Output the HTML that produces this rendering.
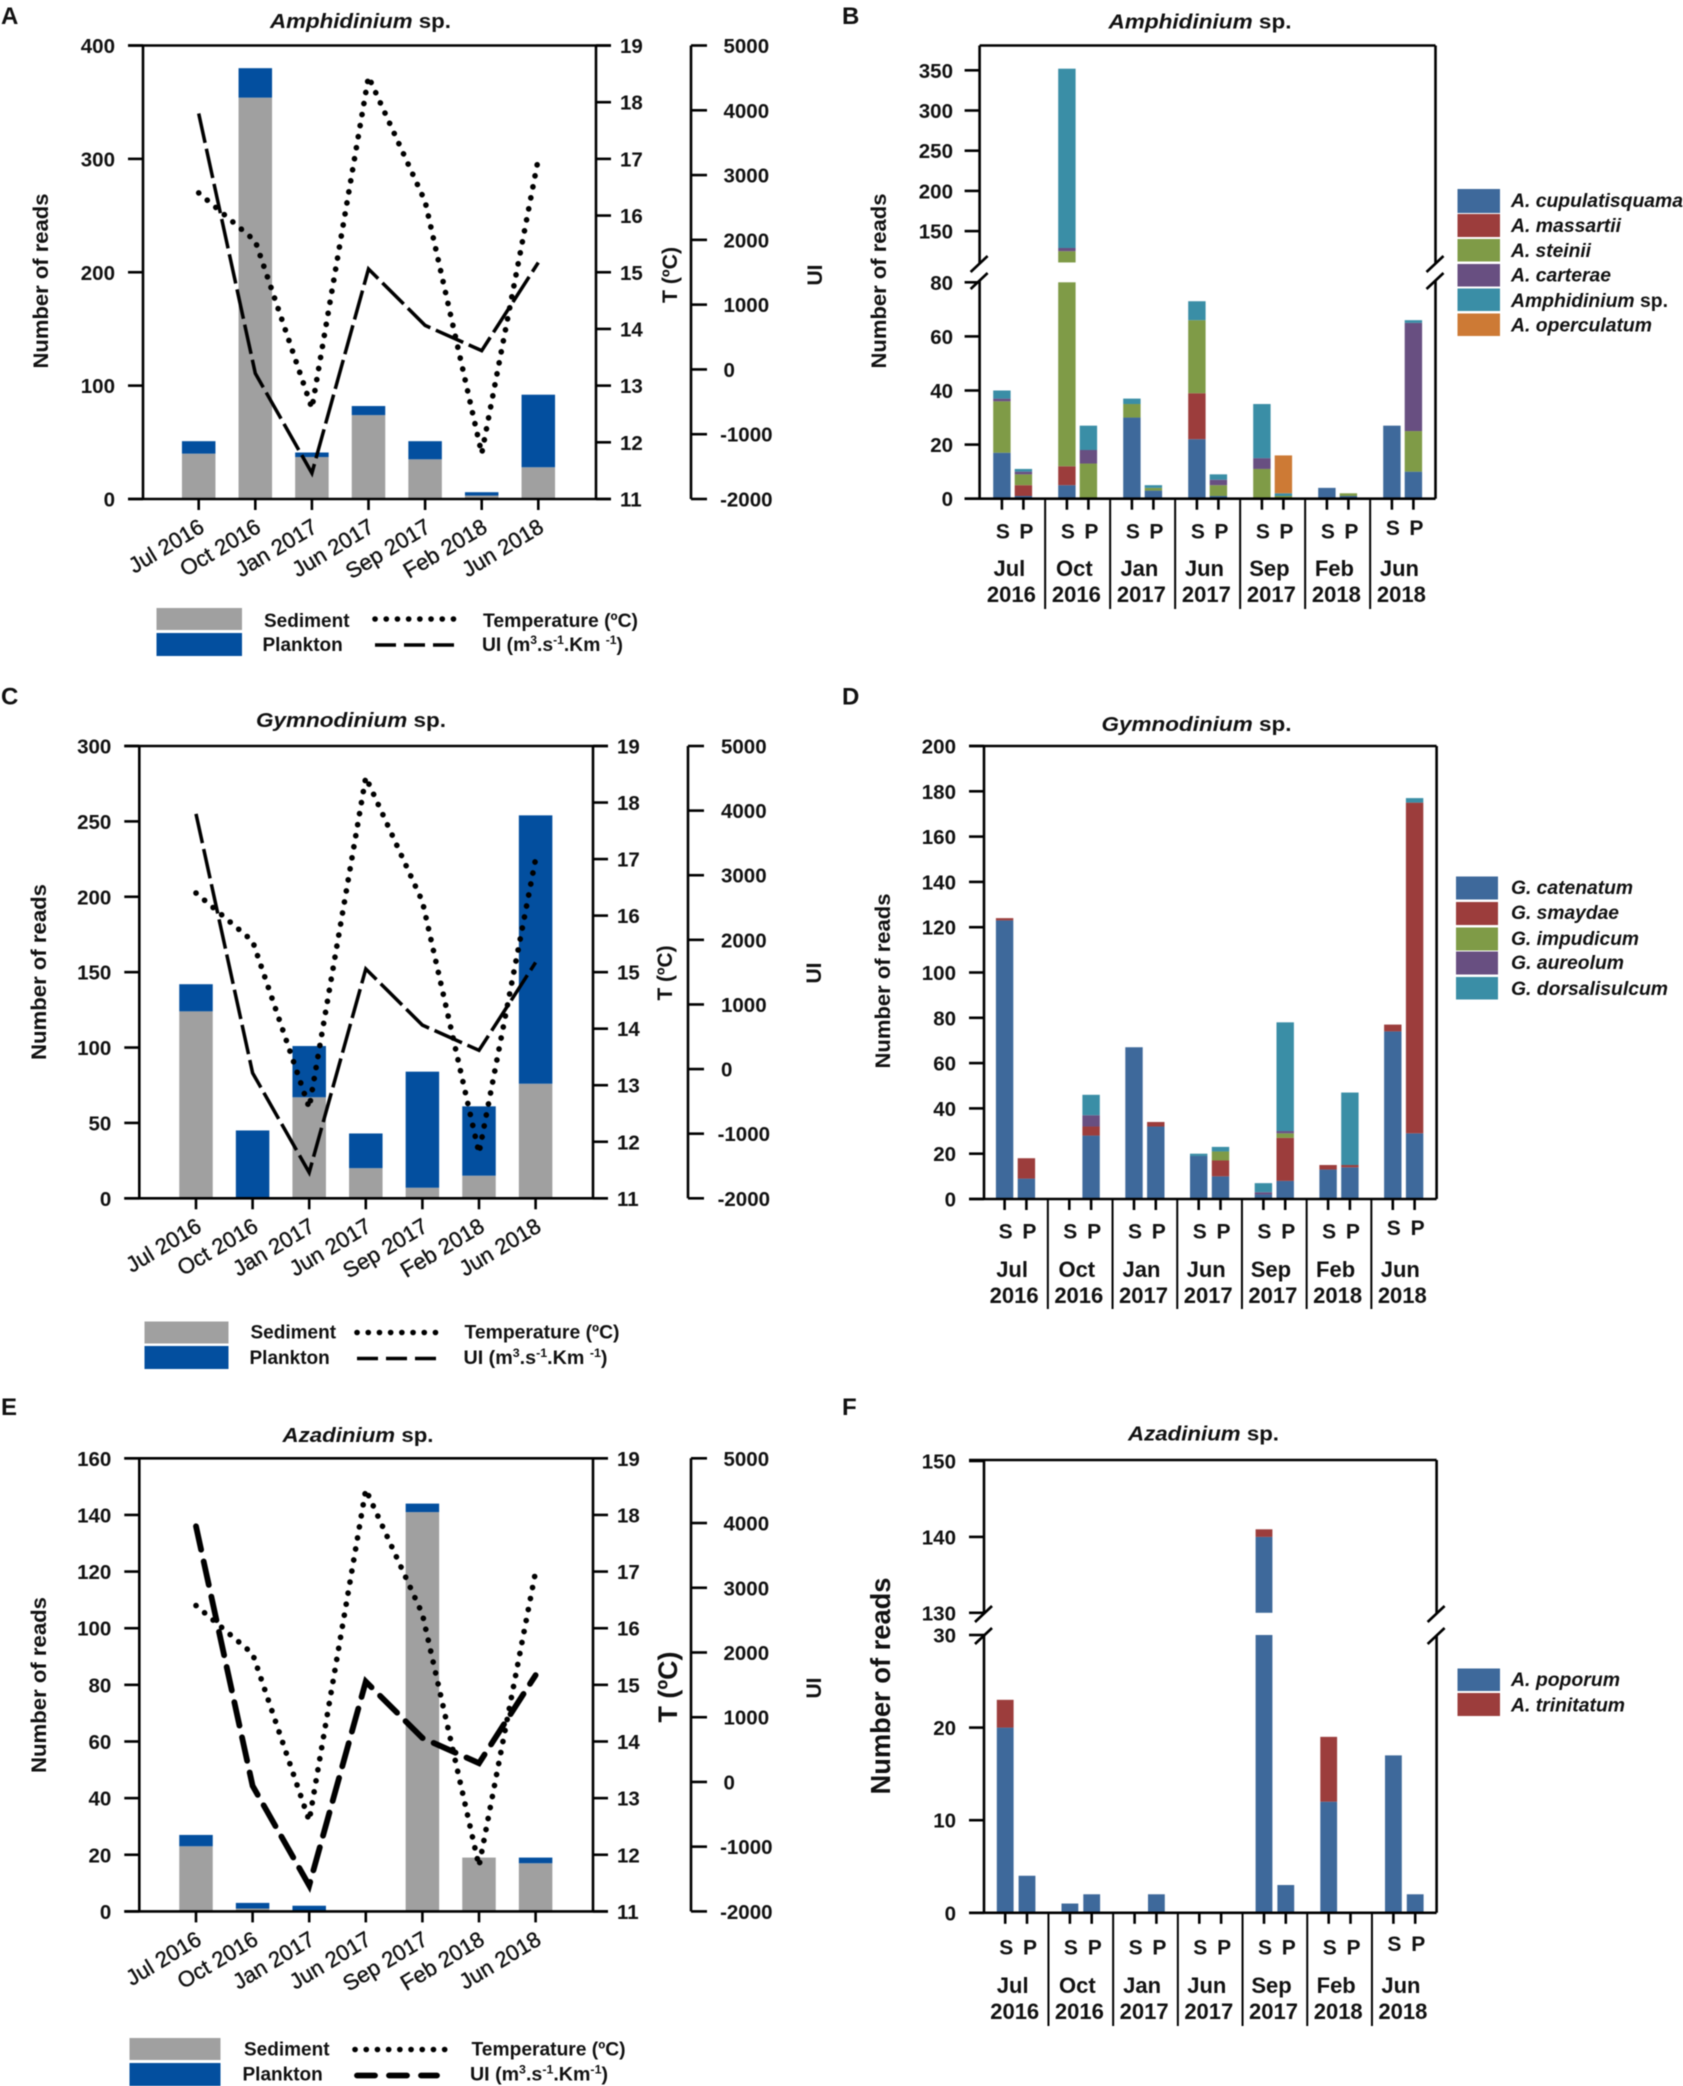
<!DOCTYPE html>
<html lang="en">
<head>
<meta charset="utf-8">
<title>Dinoflagellate reads by sampling date</title>
<style>
html,body{margin:0;padding:0;background:#fff;width:1683px;height:2086px;overflow:hidden}
#figure{display:block;filter:blur(.45px)}
text{font-family:"Liberation Sans",sans-serif;font-weight:bold;fill:#111}
.tick{font-size:20.5px}
.xl{font-size:22px;font-weight:normal;stroke:#111;stroke-width:.4px}
.sp{font-size:21px}
.grp{font-size:22px}
.title{font-size:20px}
.letter{font-size:24px}
.axt{font-size:21px}
.leg{font-size:19px}
.sleg{font-size:19px;font-style:italic}
.dotted{fill:none;stroke:#000;stroke-width:5.6;stroke-linecap:round;stroke-dasharray:.1 11.1}
.dashed{fill:none;stroke:#000;stroke-width:3.5;stroke-dasharray:30 6}
.dashed-legend{fill:none;stroke:#000;stroke-width:3.5;stroke-dasharray:21 8}
.dashed-thick{fill:none;stroke:#000;stroke-width:5.8;stroke-linecap:round;stroke-dasharray:24 12}
.dashed-thick-legend{fill:none;stroke:#000;stroke-width:5.8;stroke-linecap:round;stroke-dasharray:18 14}
</style>
</head>
<body>
<svg id="figure" xmlns="http://www.w3.org/2000/svg" width="1683" height="2086" viewBox="0 0 1683 2086">
<rect width="1683" height="2086" fill="#fff"/>

<!-- Panel A -->
<g id="panel-a">
<text class="letter" x="1" y="24">A</text>
<text class="title" x="360.5" y="28" text-anchor="middle" textLength="181" lengthAdjust="spacingAndGlyphs"><tspan font-style="italic">Amphidinium</tspan> sp.</text>
<text class="axt" transform="translate(48,281) rotate(-90)" text-anchor="middle" textLength="175" lengthAdjust="spacingAndGlyphs">Number of reads</text>
<text class="axt" transform="translate(677,275) rotate(-90)" text-anchor="middle" textLength="56" lengthAdjust="spacingAndGlyphs">T (ºC)</text>
<text class="axt" transform="translate(822,275) rotate(-90)" text-anchor="middle">UI</text>
<rect x="156.5" y="608" width="85.5" height="22" fill="#a0a0a0"/>
<rect x="156.5" y="633" width="85.5" height="23" fill="#034f9f"/>
<text class="leg" x="264" y="627">Sediment</text>
<text class="leg" x="262.5" y="651">Plankton</text>
<line class="dotted" x1="375" y1="619" x2="455" y2="619"/>
<line class="dashed-legend" x1="375" y1="645" x2="455" y2="645"/>
<text class="leg" x="483" y="627" textLength="155" lengthAdjust="spacingAndGlyphs">Temperature (ºC)</text>
<text class="leg" x="482" y="651" textLength="141" lengthAdjust="spacingAndGlyphs">UI (m<tspan font-size="12" dy="-7">3</tspan><tspan dy="7">.s</tspan><tspan font-size="12" dy="-7">-1</tspan><tspan dy="7">.Km </tspan><tspan font-size="12" dy="-7">-1</tspan><tspan dy="7">)</tspan></text>
</g>

<!-- Panel B -->
<g id="panel-b">
<text class="letter" x="842" y="24">B</text>
<text class="title" x="1200" y="28.5" text-anchor="middle" textLength="183" lengthAdjust="spacingAndGlyphs"><tspan font-style="italic">Amphidinium</tspan> sp.</text>
<text class="axt" transform="translate(886,281) rotate(-90)" text-anchor="middle" textLength="175" lengthAdjust="spacingAndGlyphs">Number of reads</text>
<rect x="1457.5" y="189" width="42.5" height="24" fill="#3e699b"/>
<rect x="1457.5" y="214" width="42.5" height="23" fill="#9c3d3c"/>
<rect x="1457.5" y="239" width="42.5" height="22.5" fill="#7f9b47"/>
<rect x="1457.5" y="264" width="42.5" height="22.5" fill="#684f81"/>
<rect x="1457.5" y="288.5" width="42.5" height="22.5" fill="#3a8ea6"/>
<rect x="1457.5" y="313.5" width="42.5" height="22.5" fill="#cd7a35"/>
<text class="sleg" x="1511" y="207" textLength="172" lengthAdjust="spacingAndGlyphs">A. cupulatisquama</text>
<text class="sleg" x="1511" y="232" textLength="110" lengthAdjust="spacingAndGlyphs">A. massartii</text>
<text class="sleg" x="1511" y="257" textLength="80" lengthAdjust="spacingAndGlyphs">A. steinii</text>
<text class="sleg" x="1511" y="281.5" textLength="100" lengthAdjust="spacingAndGlyphs">A. carterae</text>
<text class="sleg" x="1511" y="307" textLength="157" lengthAdjust="spacingAndGlyphs"><tspan>Amphidinium</tspan><tspan font-style="normal"> sp.</tspan></text>
<text class="sleg" x="1511" y="331.5" textLength="141" lengthAdjust="spacingAndGlyphs">A. operculatum</text>
</g>

<!-- Panel C -->
<g id="panel-c">
<text class="letter" x="1" y="704.5">C</text>
<text class="title" x="351" y="727" text-anchor="middle" textLength="190" lengthAdjust="spacingAndGlyphs"><tspan font-style="italic">Gymnodinium</tspan> sp.</text>
<text class="axt" transform="translate(46,972) rotate(-90)" text-anchor="middle" textLength="176" lengthAdjust="spacingAndGlyphs">Number of reads</text>
<text class="axt" transform="translate(672,973) rotate(-90)" text-anchor="middle" textLength="55" lengthAdjust="spacingAndGlyphs">T (ºC)</text>
<text class="axt" transform="translate(821,973) rotate(-90)" text-anchor="middle">UI</text>
<rect x="144.5" y="1321.5" width="84" height="22" fill="#a0a0a0"/>
<rect x="144.5" y="1346" width="84" height="23" fill="#034f9f"/>
<text class="leg" x="250.5" y="1338.5">Sediment</text>
<text class="leg" x="249.5" y="1364">Plankton</text>
<line class="dotted" x1="357" y1="1332.5" x2="437" y2="1332.5"/>
<line class="dashed-legend" x1="357" y1="1358.5" x2="437" y2="1358.5"/>
<text class="leg" x="464.5" y="1338.5" textLength="155" lengthAdjust="spacingAndGlyphs">Temperature (ºC)</text>
<text class="leg" x="463.5" y="1364" textLength="144" lengthAdjust="spacingAndGlyphs">UI (m<tspan font-size="12" dy="-7">3</tspan><tspan dy="7">.s</tspan><tspan font-size="12" dy="-7">-1</tspan><tspan dy="7">.Km </tspan><tspan font-size="12" dy="-7">-1</tspan><tspan dy="7">)</tspan></text>
</g>

<!-- Panel D -->
<g id="panel-d">
<text class="letter" x="842" y="704.5">D</text>
<text class="title" x="1196.5" y="731" text-anchor="middle" textLength="190" lengthAdjust="spacingAndGlyphs"><tspan font-style="italic">Gymnodinium</tspan> sp.</text>
<text class="axt" transform="translate(890,981) rotate(-90)" text-anchor="middle" textLength="175" lengthAdjust="spacingAndGlyphs">Number of reads</text>
<rect x="1456" y="876.5" width="42" height="23" fill="#3e699b"/>
<rect x="1456" y="902" width="42" height="23" fill="#9c3d3c"/>
<rect x="1456" y="927.5" width="42" height="23" fill="#7f9b47"/>
<rect x="1456" y="951.5" width="42" height="23" fill="#684f81"/>
<rect x="1456" y="977" width="42" height="22.5" fill="#3a8ea6"/>
<text class="sleg" x="1511" y="894" textLength="122" lengthAdjust="spacingAndGlyphs">G. catenatum</text>
<text class="sleg" x="1511" y="919" textLength="108" lengthAdjust="spacingAndGlyphs">G. smaydae</text>
<text class="sleg" x="1511" y="945" textLength="128" lengthAdjust="spacingAndGlyphs">G. impudicum</text>
<text class="sleg" x="1511" y="969" textLength="113" lengthAdjust="spacingAndGlyphs">G. aureolum</text>
<text class="sleg" x="1511" y="995" textLength="157" lengthAdjust="spacingAndGlyphs">G. dorsalisulcum</text>
</g>

<!-- Panel E -->
<g id="panel-e">
<text class="letter" x="1" y="1415">E</text>
<text class="title" x="358" y="1442" text-anchor="middle" textLength="151" lengthAdjust="spacingAndGlyphs"><tspan font-style="italic">Azadinium</tspan> sp.</text>
<text class="axt" transform="translate(46,1685) rotate(-90)" text-anchor="middle" textLength="176" lengthAdjust="spacingAndGlyphs">Number of reads</text>
<text class="axt" style="font-size:27px" transform="translate(677,1687) rotate(-90)" text-anchor="middle" textLength="71" lengthAdjust="spacingAndGlyphs">T (ºC)</text>
<text class="axt" transform="translate(821,1688) rotate(-90)" text-anchor="middle">UI</text>
<rect x="129.5" y="2038" width="91" height="22" fill="#a0a0a0"/>
<rect x="129.5" y="2063" width="91" height="23" fill="#034f9f"/>
<text class="leg" x="244" y="2055.5">Sediment</text>
<text class="leg" x="242.5" y="2080.5">Plankton</text>
<line class="dotted" x1="355" y1="2049.5" x2="447" y2="2049.5"/>
<line class="dashed-thick-legend" x1="357" y1="2075.5" x2="437" y2="2075.5"/>
<text class="leg" x="471.5" y="2055.5" textLength="154" lengthAdjust="spacingAndGlyphs">Temperature (ºC)</text>
<text class="leg" x="470" y="2080.5" textLength="138" lengthAdjust="spacingAndGlyphs">UI (m<tspan font-size="12" dy="-7">3</tspan><tspan dy="7">.s</tspan><tspan font-size="12" dy="-7">-1</tspan><tspan dy="7">.Km</tspan><tspan font-size="12" dy="-7">-1</tspan><tspan dy="7">)</tspan></text>
</g>

<!-- Panel F -->
<g id="panel-f">
<text class="letter" x="842" y="1415">F</text>
<text class="title" x="1203.5" y="1440.5" text-anchor="middle" textLength="151" lengthAdjust="spacingAndGlyphs"><tspan font-style="italic">Azadinium</tspan> sp.</text>
<text class="axt" style="font-size:28px" transform="translate(890,1686) rotate(-90)" text-anchor="middle" textLength="217" lengthAdjust="spacingAndGlyphs">Number of reads</text>
<rect x="1457.5" y="1668.5" width="42.5" height="22.5" fill="#3e699b"/>
<rect x="1457.5" y="1693" width="42.5" height="23" fill="#9c3d3c"/>
<text class="sleg" x="1511" y="1686" textLength="109" lengthAdjust="spacingAndGlyphs">A. poporum</text>
<text class="sleg" x="1511" y="1711.5" textLength="114" lengthAdjust="spacingAndGlyphs">A. trinitatum</text>
</g>
</svg>

<script>
// ---------- shared categories and tick labels ----------
const sampleMonths = ['Jul 2016','Oct 2016','Jan 2017','Jun 2017','Sep 2017','Feb 2018','Jun 2018'];
const fractionLabels = ['S','P'];
const temperatureTicks = [11,12,13,14,15,16,17,18,19];
const uiTicks = [-2000,-1000,0,1000,2000,3000,4000,5000];

// ---------- panel A ----------
const aSediment = [40,354,37,74,35,3,28];
const aPlankton = [11,26,4,8,16,3,64];
const aTemperature = [16.4,15.55,12.6,18.45,16.25,11.8,17.0];
const aUI = [3950,-60,-1600,1550,680,290,1650];
const aTicks = [0,100,200,300,400];

// ---------- panel C ----------
const cSediment = [124,0,67,20,7,15,76];
const cPlankton = [18,45,34,23,77,46,178];
const cTemperature = [16.4,15.55,12.6,18.45,16.25,11.8,17.0];
const cUI = [3950,-60,-1600,1550,680,290,1650];
const cTicks = [0,50,100,150,200,250,300];

// ---------- panel E ----------
const eSediment = [23,1,0,0,141,19,17];
const ePlankton = [4,2,2,0,3,0,2];
const eTemperature = [16.4,15.55,12.6,18.45,16.25,11.8,17.0];
const eUI = [3950,-60,-1600,1550,680,290,1650];
const eTicks = [0,20,40,60,80,100,120,140,160];

// ---------- panel B (order: Jul S, Jul P, Oct S, Oct P, ...) ----------
const bCupulatisquama = [17,1,5,0,30,3,22,1,0,0,4,1,27,10];
const bMassartii      = [0,4,7,0,0,0,17,0,0,0,0,0,0,0];
const bSteinii        = [19,4,113,13,5,1,27,4,11,1,0,1,0,15];
const bCarterae       = [1,1,4,5,0,0,0,2,4,0,0,0,0,40];
const bAmphidinium    = [3,1,223,9,2,1,7,2,20,1,0,0,0,1];
const bOperculatum    = [0,0,0,0,0,0,0,0,0,14,0,0,0,0];
const bTicksLow = [0,20,40,60,80];
const bTicksHigh = [150,200,250,300,350];

// ---------- panel D ----------
const dCatenatum     = [123,9,0,28,67,32,19,10,2,8,13,14,74,29];
const dSmaydae       = [1,9,0,4,0,2,0,7,0,19,2,1,3,146];
const dImpudicum     = [0,0,0,0,0,0,0,4,0,2,0,0,0,0];
const dAureolum      = [0,0,0,5,0,0,0,0,1,1,0,0,0,0];
const dDorsalisulcum = [0,0,0,9,0,0,1,2,4,48,0,32,0,2];
const dTicks = [0,20,40,60,80,100,120,140,160,180,200];

// ---------- panel F ----------
const fPoporum    = [20,4,1,2,0,2,0,0,140,3,12,0,17,2];
const fTrinitatum = [3,0,0,0,0,0,0,0,1,0,7,0,0,0];
const fTicksLow = [0,10,20,30];
const fTicksHigh = [130,140,150];

// ---------- colours ----------
const SEDIMENT = '#a0a0a0', PLANKTON = '#034f9f';
const BLUE = '#3e699b', RED = '#9c3d3c', GREEN = '#7f9b47', PURPLE = '#684f81', TEAL = '#3a8ea6', ORANGE = '#cd7a35';

// ---------- helpers ----------
const NS = 'http://www.w3.org/2000/svg';
function add(parent, tag, attrs, name, content) {
  const el = document.createElementNS(NS, tag);
  for (const k in attrs) el.setAttribute(k, attrs[k]);
  
  
  if (content !== undefined) el.textContent = content;
  parent.appendChild(el);
  return el;
}
function line(g, x1, y1, x2, y2, name, sw) {
  return add(g, 'line', {x1, y1, x2, y2, stroke:'#000', 'stroke-width': sw || 2.6}, name);
}
function linear(d0, d1, r0, r1) {
  return v => r0 + (v - d0) * (r1 - r0) / (d1 - d0);
}
function linearScale(d0, d1, r0, r1) {
  const f = linear(d0, d1, r0, r1);
  f.pieces = (a, b) => [[f(a), f(b)]];
  return f;
}
function brokenScale(lowScale, lowMax, highScale, highMin) {
  const f = v => v <= lowMax ? lowScale(v) : highScale(v);
  f.pieces = (a, b) => {
    const out = [];
    if (a < lowMax) out.push([lowScale(a), lowScale(Math.min(b, lowMax))]);
    if (b > highMin) out.push([highScale(Math.max(a, highMin)), highScale(b)]);
    return out;
  };
  return f;
}

// Combination panel: stacked bars + temperature + upwelling index
function drawCombo(id, cfg, sediment, plankton, temperature, ui, ticks) {
  const g = document.getElementById(id);
  const x = i => cfg.x0 + i * cfg.step;
  const yReads = linearScale(0, ticks[ticks.length - 1], cfg.bottom, cfg.top);
  const yTemp = linear(11, 19, cfg.bottom, cfg.top);
  const yUI = linear(-2000, 5000, cfg.bottom, cfg.top);

  sampleMonths.forEach((m, i) => {
    const h1 = yReads(sediment[i]);
    const h2 = yReads(sediment[i] + plankton[i]);
    if (sediment[i] > 0) add(g, 'rect', {x: x(i) - cfg.barW / 2, y: h1, width: cfg.barW, height: cfg.bottom - h1, fill: SEDIMENT}, 'bar-sediment');
    if (plankton[i] > 0) add(g, 'rect', {x: x(i) - cfg.barW / 2, y: h2, width: cfg.barW, height: h1 - h2, fill: PLANKTON}, 'bar-plankton');
  });

  line(g, cfg.left, cfg.top, cfg.left, cfg.bottom, 'reads-axis-line');
  line(g, cfg.right, cfg.top, cfg.right, cfg.bottom, 'temperature-axis-line');
  line(g, cfg.left - 15, cfg.top, cfg.right + 15, cfg.top, 'plot-top-border');
  line(g, cfg.left - 15, cfg.bottom, cfg.right + 15, cfg.bottom, 'x-axis-line');
  line(g, cfg.third, cfg.top, cfg.third, cfg.bottom, 'ui-axis-line');

  ticks.forEach(t => {
    const y = yReads(t);
    line(g, cfg.left - 15, y, cfg.left, y, 'reads-tick');
    add(g, 'text', {class: 'tick', x: cfg.left - 28, y: y + 7.5, 'text-anchor': 'end'}, 'reads-tick-label', t);
  });
  temperatureTicks.forEach(t => {
    const y = yTemp(t);
    line(g, cfg.right, y, cfg.right + 15, y, 'temperature-tick');
    add(g, 'text', {class: 'tick', x: cfg.right + 24, y: y + 7.5}, 'temperature-tick-label', t);
  });
  uiTicks.forEach(t => {
    const y = yUI(t);
    line(g, cfg.third, y, cfg.third + 16, y, 'ui-tick');
    if (t < 0) add(g, 'text', {class: 'tick', x: cfg.uiLabel, y: y + 7.5, 'text-anchor': 'end'}, 'ui-tick-label', t);
    else add(g, 'text', {class: 'tick', x: cfg.uiLabel - 49, y: y + 7.5}, 'ui-tick-label', t);
  });
  sampleMonths.forEach((m, i) => {
    line(g, x(i), cfg.bottom, x(i), cfg.bottom + 11, 'x-tick');
    add(g, 'text', {class: 'xl', x: 0, y: 0, 'text-anchor': 'end',
      transform: 'translate(' + (x(i) + 7) + ',' + (cfg.bottom + 32) + ') rotate(-31)'}, 'x-tick-label', m);
  });

  const tempPts = temperature.map((v, i) => x(i) + ',' + yTemp(v)).join(' ');
  add(g, 'polyline', {points: tempPts, class: 'dotted'}, 'temperature-line');
  const uiPts = ui.map((v, i) => x(i) + ',' + yUI(v)).join(' ');
  add(g, 'polyline', {points: uiPts, class: cfg.thick ? 'dashed-thick' : 'dashed'}, 'ui-line');
}

// Species panel: stacked S/P bars grouped by sampling date
function drawSpecies(id, cfg, series, y, tickSets) {
  const g = document.getElementById(id);
  const x = i => cfg.x0 + Math.floor(i / 2) * cfg.step + (i % 2) * cfg.pairGap;
  const n = series[0].values.length;
  for (let i = 0; i < n; i++) {
    let base = 0;
    series.forEach(s => {
      const v = s.values[i];
      if (v > 0) {
        y.pieces(base, base + v).forEach(p => {
          add(g, 'rect', {x: x(i) - cfg.barW / 2, y: p[1], width: cfg.barW, height: p[0] - p[1], fill: s.color}, 'bar-' + s.name);
        });
      }
      base += v;
    });
  }
  const l = cfg.left, r = cfg.right;
  if (cfg.breakTop) {
    line(g, l, cfg.top, l, cfg.breakTop, 'y-axis-upper');
    line(g, l, cfg.breakBottom, l, cfg.bottom, 'y-axis-lower');
    line(g, r, cfg.top, r, cfg.breakTop, 'right-border-upper');
    line(g, r, cfg.breakBottom, r, cfg.bottom, 'right-border-lower');
    [l, r].forEach(c => {
      line(g, c - 9, cfg.breakTop + 8, c + 8, cfg.breakTop - 8, 'axis-break-mark');
      line(g, c - 9, cfg.breakBottom + 8, c + 8, cfg.breakBottom - 8, 'axis-break-mark');
    });
  } else {
    line(g, l, cfg.top, l, cfg.bottom, 'y-axis-line');
    line(g, r, cfg.top, r, cfg.bottom, 'right-border');
  }
  line(g, l - (cfg.topTick ? 15 : 0), cfg.top, r, cfg.top, 'plot-top-border');
  line(g, l - 15, cfg.bottom, r, cfg.bottom, 'x-axis-line');
  tickSets.forEach(t => {
    const yy = y(t);
    line(g, l - 15, yy, l, yy, 'y-tick');
    add(g, 'text', {class: 'tick', x: cfg.label, y: yy + 7.5, 'text-anchor': 'end'}, 'y-tick-label', t);
  });
  sampleMonths.forEach((m, k) => {
    const sx = cfg.x0 + k * cfg.step;
    const spY = cfg.spY - (k === sampleMonths.length - 1 ? 3.5 : 0);
    line(g, sx, cfg.bottom, sx, cfg.bottom + 11, 'fraction-tick');
    line(g, sx + cfg.pairGap, cfg.bottom, sx + cfg.pairGap, cfg.bottom + 11, 'fraction-tick');
    add(g, 'text', {class: 'sp', x: sx + 1, y: spY, 'text-anchor': 'middle'}, 'fraction-label-sediment', fractionLabels[0]);
    add(g, 'text', {class: 'sp', x: sx + cfg.pairGap + 3, y: spY, 'text-anchor': 'middle'}, 'fraction-label-plankton', fractionLabels[1]);
    const parts = m.split(' ');
    const cx = sx + 9.5;
    add(g, 'text', {class: 'grp', x: cx - 2, y: cfg.monthY, 'text-anchor': 'middle'}, 'date-label-month', parts[0]);
    add(g, 'text', {class: 'grp', x: cx, y: cfg.yearY, 'text-anchor': 'middle'}, 'date-label-year', parts[1]);
    if (k > 0) {
      const dx = sx - (cfg.step - cfg.pairGap) / 2;
      line(g, dx, cfg.bottom, dx, cfg.dividerEnd, 'date-group-divider', 2);
    }
  });
}

// ---------- render ----------
drawCombo('panel-a', {left:143, right:596, top:45.5, bottom:499, third:691, uiLabel:772.5, x0:198.7, step:56.6, barW:33.5}, aSediment, aPlankton, aTemperature, aUI, aTicks);
drawCombo('panel-c', {left:139.3, right:593, top:746, bottom:1198.3, third:688, uiLabel:770, x0:196, step:56.6, barW:33.5}, cSediment, cPlankton, cTemperature, cUI, cTicks);
drawCombo('panel-e', {left:139.3, right:593, top:1458.3, bottom:1911.4, third:691, uiLabel:772.5, x0:196, step:56.6, barW:33.5, thick:true}, eSediment, ePlankton, eTemperature, eUI, eTicks);

const bY = brokenScale(linear(0, 80, 498.7, 282.3), 80, linear(150, 350, 231.1, 70.3), 111);
drawSpecies('panel-b', {left:979.6, right:1435.5, top:45.5, bottom:498.7, breakTop:264, breakBottom:281, x0:1001.9, step:65, pairGap:21.5, barW:17.4, label:953, spY:538.5, monthY:576, yearY:602, dividerEnd:609},
  [{name:'cupulatisquama', values:bCupulatisquama, color:BLUE},
   {name:'massartii', values:bMassartii, color:RED},
   {name:'steinii', values:bSteinii, color:GREEN},
   {name:'carterae', values:bCarterae, color:PURPLE},
   {name:'amphidinium', values:bAmphidinium, color:TEAL},
   {name:'operculatum', values:bOperculatum, color:ORANGE}],
  bY, bTicksLow.concat(bTicksHigh));

const dY = linearScale(0, 200, 1199, 746);
drawSpecies('panel-d', {left:984, right:1436.6, top:746, bottom:1199, topTick:true, x0:1004.6, step:64.7, pairGap:21.8, barW:17.4, label:956, spY:1238.5, monthY:1277, yearY:1303, dividerEnd:1309},
  [{name:'catenatum', values:dCatenatum, color:BLUE},
   {name:'smaydae', values:dSmaydae, color:RED},
   {name:'impudicum', values:dImpudicum, color:GREEN},
   {name:'aureolum', values:dAureolum, color:PURPLE},
   {name:'dorsalisulcum', values:dDorsalisulcum, color:TEAL}],
  dY, dTicks);

const fY = brokenScale(linear(0, 30, 1912.8, 1635), 30, linear(130, 150, 1612.8, 1461), 130);
drawSpecies('panel-f', {left:984, right:1436.6, top:1460, bottom:1912.8, topTick:true, breakTop:1614, breakBottom:1636, x0:1005.2, step:64.7, pairGap:21.8, barW:16.8, label:956, spY:1954.5, monthY:1993, yearY:2019, dividerEnd:2026},
  [{name:'poporum', values:fPoporum, color:BLUE},
   {name:'trinitatum', values:fTrinitatum, color:RED}],
  fY, fTicksLow.concat(fTicksHigh));
</script>
</body>
</html>
